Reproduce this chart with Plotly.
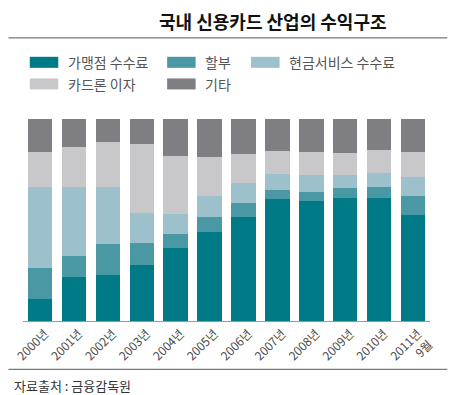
import plotly.graph_objects as go

categories = ["2000년", "2001년", "2002년", "2003년", "2004년", "2005년", "2006년",
              "2007년", "2008년", "2009년", "2010년", "2011년<br>9월"]
series_names = ["가맹점 수수료", "할부", "현금서비스 수수료", "카드론 이자", "기타"]
merchant_fee = [11.1, 21.8, 23.0, 27.6, 35.9, 44.1, 51.4, 60.5, 59.3, 60.7, 60.8, 52.6]
installment = [14.9, 10.4, 15.0, 11.2, 7.2, 7.6, 6.8, 4.6, 4.7, 4.9, 5.5, 9.4]
cash_service = [40.3, 34.1, 28.3, 14.9, 9.8, 10.3, 10.2, 7.5, 8.1, 6.6, 7.1, 9.1]
card_loan = [17.5, 20.0, 22.5, 34.1, 28.8, 19.2, 14.4, 11.7, 11.7, 10.8, 11.4, 12.7]
others = [16.2, 13.7, 11.2, 12.2, 18.3, 18.8, 17.2, 15.7, 16.2, 17.0, 15.2, 16.2]

colors = ["#007a87", "#4b98a5", "#9dc1cc", "#c8c8ca", "#7f7f83"]
values = [merchant_fee, installment, cash_service, card_loan, others]

FONT = "Noto Sans CJK KR"

fig = go.Figure()
for name, vals, col in zip(series_names, values, colors):
    fig.add_trace(go.Bar(x=categories, y=vals, name=name, marker=dict(color=col, line=dict(width=0)),
                         showlegend=False))

fig.update_layout(
    barmode="stack",
    bargap=0.28,
    width=460, height=395,
    margin=dict(l=22.5, r=30.3, t=119.3, b=74, autoexpand=False),
    paper_bgcolor="white", plot_bgcolor="white",
    font=dict(family=FONT, color="#555555"),
    xaxis=dict(tickangle=-45, tickfont=dict(size=12, color="#4a4a4a", family=FONT),
               showline=True, linecolor="#9a9a9a", linewidth=1, ticks="", showgrid=False,
               automargin=False, ticklabelshift=5),
    yaxis=dict(range=[0, 100], visible=False, showgrid=False, automargin=False),
)

def px_x(px):
    return (px - 22.5) / 407.2

def px_y(py):
    return (321 - py) / 201.7

# title
fig.add_annotation(text="<b>국내 신용카드 산업의 수익구조</b>", xref="paper", yref="paper",
                   x=px_x(273), y=px_y(21), showarrow=False,
                   font=dict(size=18, color="#111111", family=FONT), xanchor="center", yanchor="middle")

# lines
for yy in (38.3, 369.3):
    fig.add_shape(type="line", xref="paper", yref="paper", x0=px_x(8), x1=px_x(447),
                  y0=px_y(yy), y1=px_y(yy), line=dict(color="#777777", width=1.2))

# legend
legend_pos = [(29.3, 62.7), (166.7, 62.7), (250.7, 62.7), (29.3, 84.3), (166.7, 84.3)]
for (lx, ly), name, col in zip(legend_pos, series_names, colors):
    fig.add_shape(type="rect", xref="paper", yref="paper", x0=px_x(lx), x1=px_x(lx + 28.5),
                  y0=px_y(ly - 5.5), y1=px_y(ly + 5.5), fillcolor=col, line=dict(width=0))
    fig.add_annotation(text=name, xref="paper", yref="paper", x=px_x(lx + 36), y=px_y(ly),
                       showarrow=False, xanchor="left", yanchor="middle",
                       font=dict(size=14, color="#555555", family=FONT))

# source
fig.add_annotation(text="자료출처 : 금융감독원", xref="paper", yref="paper", x=px_x(11), y=px_y(385),
                   showarrow=False, xanchor="left", yanchor="middle",
                   font=dict(size=13, color="#333333", family=FONT))

fig.write_html("out.html", config={"displayModeBar": False},
               post_script="document.body.style.margin='0';document.body.style.overflow='hidden';")
